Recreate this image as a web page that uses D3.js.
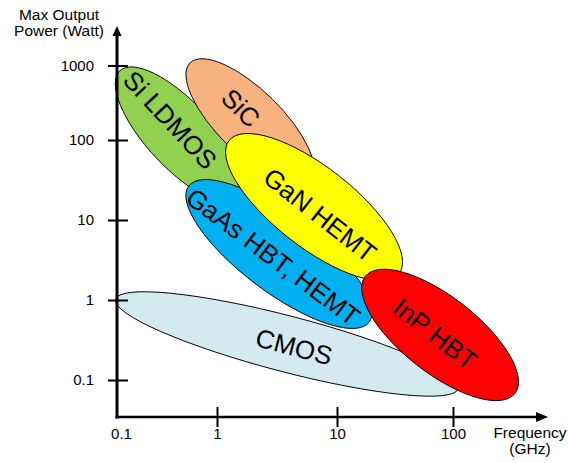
<!DOCTYPE html>
<html>
<head>
<meta charset="utf-8">
<script src="https://cdn.jsdelivr.net/npm/d3@7"></script>
<style>
  html, body { margin: 0; padding: 0; background: #fff; }
  svg { display: block; font-family: "Liberation Sans", Arial, Helvetica, sans-serif; }
</style>
</head>
<body>
<svg id="chart" width="568" height="463"></svg>
<script>
// Semiconductor technologies, in drawing order (back to front)
const technologies = ["CMOS", "Si LDMOS", "SiC", "GaAs HBT, HEMT", "GaN HEMT", "InP HBT"];

// Each region is an ellipse whose long axis runs from (freqStart, powerStart)
// to (freqEnd, powerEnd); widthRatio is its short axis over its long axis.
const freqStart  = [0.097, 0.107, 0.537, 0.521, 1.26, 17.5];   // GHz
const powerStart = [1.02,  851,   1080,  26.6,  98.5, 1.97];   // W
const freqEnd    = [111,   1.55,  5.96,  19.0,  34.3, 342];    // GHz
const powerEnd   = [0.078, 18.2,  30.7,  0.531, 2.14, 0.068];  // W
const widthRatio = [0.158, 0.375, 0.38,  0.336, 0.37, 0.40];

// Where each technology name sits
const labelFreq  = [4.38,  0.339, 1.58, 2.93, 7.2,  70];
const labelPower = [0.259, 185,   269,  3.45, 11.5, 0.376];

// Axis ticks
const freqTicks  = [0.1, 1, 10, 100];
const freqTickLabels  = ["0.1", "1", "10", "100"];
const powerTicks = [0.1, 1, 10, 100, 1000];
const powerTickLabels = ["0.1", "1", "10", "100", "1000"];

const fills = {
  "CMOS": "#d3eaf0",
  "Si LDMOS": "#92d050",
  "SiC": "#f7b27f",
  "GaAs HBT, HEMT": "#00b0f0",
  "GaN HEMT": "#ffff00",
  "InP HBT": "#ff0000"
};

const svg = d3.select("#chart");

// Log scales, one segment per decade
const x = d3.scaleLog().domain([0.1, 1, 10, 100]).range([117, 217, 337, 453]);
const y = d3.scaleLog().domain([0.1, 1, 10, 100, 1000]).range([380, 300, 220, 140, 65.5]);

const originX = x(0.1);
const originY = 417;

// Technology regions
const regions = technologies.map((name, i) => {
  const x1 = x(freqStart[i]), y1 = y(powerStart[i]);
  const x2 = x(freqEnd[i]),   y2 = y(powerEnd[i]);
  const a = Math.hypot(x2 - x1, y2 - y1) / 2;
  return {
    name,
    cx: (x1 + x2) / 2,
    cy: (y1 + y2) / 2,
    rx: a,
    ry: a * widthRatio[i],
    angle: Math.atan2(y2 - y1, x2 - x1) * 180 / Math.PI,
    lx: x(labelFreq[i]),
    ly: y(labelPower[i])
  };
});

svg.append("g")
  .selectAll("ellipse")
  .data(regions)
  .join("ellipse")
  .attr("cx", d => d.cx)
  .attr("cy", d => d.cy)
  .attr("rx", d => d.rx)
  .attr("ry", d => d.ry)
  .attr("transform", d => `rotate(${d.angle},${d.cx},${d.cy})`)
  .attr("fill", d => fills[d.name])
  .attr("stroke", "#000")
  .attr("stroke-width", 0.9);

svg.append("g")
  .selectAll("text")
  .data(regions)
  .join("text")
  .attr("transform", d => `translate(${d.lx},${d.ly}) rotate(${d.angle})`)
  .attr("text-anchor", "middle")
  .attr("dominant-baseline", "central")
  .attr("font-size", 26)
  .attr("fill", "#000")
  .text(d => d.name);

// Y axis: ticks cross the axis line
const yAxis = d3.axisLeft(y)
  .tickValues(powerTicks)
  .tickFormat((d, i) => powerTickLabels[i])
  .tickSize(20)
  .tickPadding(14);

const gy = svg.append("g")
  .attr("transform", `translate(${originX + 11},0)`)
  .call(yAxis);
gy.select(".domain").remove();
gy.selectAll(".tick line").attr("stroke", "#000").attr("stroke-width", 2);
gy.selectAll(".tick text")
  .attr("font-size", 15)
  .attr("font-family", null)
  .attr("fill", "#000");

// X axis
const xAxis = d3.axisBottom(x)
  .tickValues(freqTicks)
  .tickFormat((d, i) => freqTickLabels[i])
  .tickSize(20)
  .tickPadding(1);

const gx = svg.append("g")
  .attr("transform", `translate(0,${originY - 10})`)
  .call(xAxis);
gx.select(".domain").remove();
gx.selectAll(".tick line")
  .attr("stroke", "#000")
  .attr("stroke-width", 2)
  .attr("display", d => d === 0.1 ? "none" : null);
gx.selectAll(".tick text")
  .attr("font-size", 15)
  .attr("font-family", null)
  .attr("fill", "#000")
  .attr("dx", d => d === 0.1 ? 4 : 0);

// Axis lines with arrow heads
svg.append("line")
  .attr("x1", originX).attr("y1", originY + 1.5)
  .attr("x2", originX).attr("y2", 35)
  .attr("stroke", "#000").attr("stroke-width", 3);
svg.append("path")
  .attr("d", `M${originX},26 L${originX - 4.5},36 L${originX + 4.5},36 Z`)
  .attr("fill", "#000");

svg.append("line")
  .attr("x1", originX - 1.5).attr("y1", originY)
  .attr("x2", 537).attr("y2", originY)
  .attr("stroke", "#000").attr("stroke-width", 2.6);
svg.append("path")
  .attr("d", `M548,${originY} L536,${originY - 5} L536,${originY + 5} Z`)
  .attr("fill", "#000");

// Axis titles
const yTitle = svg.append("text")
  .attr("text-anchor", "middle")
  .attr("font-size", 15.5)
  .attr("fill", "#000");
yTitle.append("tspan").attr("x", 59).attr("y", 20).text("Max Output");
yTitle.append("tspan").attr("x", 59).attr("y", 35.5).text("Power (Watt)");

const xTitle = svg.append("text")
  .attr("text-anchor", "middle")
  .attr("font-size", 15.5)
  .attr("fill", "#000");
xTitle.append("tspan").attr("x", 530).attr("y", 438).text("Frequency");
xTitle.append("tspan").attr("x", 530).attr("y", 454).text("(GHz)");
</script>
</body>
</html>
